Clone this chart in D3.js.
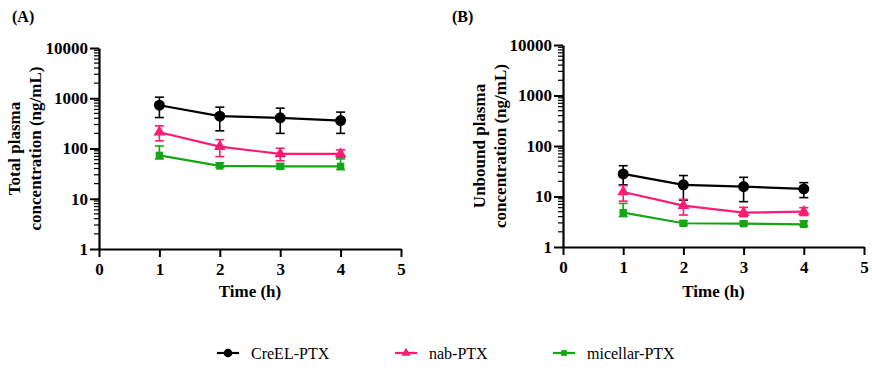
<!DOCTYPE html>
<html>
<head>
<meta charset="utf-8">
<script src="https://cdn.jsdelivr.net/npm/d3@7"></script>
<style>
  body { margin: 0; background: #fff; }
  svg { display: block; }
  svg text { font-family: "Liberation Serif", Times, "Times New Roman", "DejaVu Serif", serif !important; }
</style>
</head>
<body>
<div id="chart"></div>
<script>
// Data
const times = [1, 2, 3, 4];
const seriesNames = ["CreEL-PTX", "nab-PTX", "micellar-PTX"];
const seriesColors = ["#000000", "#ff1a72", "#16a516"];

// Panel A: total plasma concentration (ng/mL)
const totalCreEL = [727, 440, 407, 360];
const totalCreELHi = [1050, 665, 635, 530];
const totalCreELLo = [413, 225, 200, 200];
const totalNab = [211, 109, 78, 78];
const totalNabHi = [282, 150, 101, 94];
const totalNabLo = [142, 69, 57, 66];
const totalMic = [73, 45, 44, 44];
const totalMicHi = [112, 52, 50, 62];
const totalMicLo = [62, 42, 40, 38];

// Panel B: unbound plasma concentration (ng/mL)
const unbCreEL = [28, 17, 15.7, 14.1];
const unbCreELHi = [40.7, 26, 24, 18.8];
const unbCreELLo = [17, 8.5, 7.9, 9.5];
const unbNab = [12.3, 6.6, 4.8, 5.0];
const unbNabHi = [16.4, 8.8, 6.1, 6.0];
const unbNabLo = [8.1, 4.3, 4.0, 4.2];
const unbMic = [4.8, 2.95, 2.9, 2.8];
const unbMicHi = [7.3, 3.3, 3.2, 3.3];
const unbMicLo = [4.0, 2.7, 2.7, 2.6];

const xTicks = [0, 1, 2, 3, 4, 5];
const yTicks = [1, 10, 100, 1000, 10000];

const W = 872, H = 368;
const svg = d3.select("#chart").append("svg")
  .attr("width", W)
  .attr("height", H);

const panels = [
  {
    tag: "(A)", tagX: 12, left: 99, right: 401, top: 48, bottom: 249,
    yLabel: ["Total plasma", "concentration (ng/mL)"], labelX: 14,
    series: [
      { mean: totalCreEL, hi: totalCreELHi, lo: totalCreELLo },
      { mean: totalNab, hi: totalNabHi, lo: totalNabLo },
      { mean: totalMic, hi: totalMicHi, lo: totalMicLo }
    ]
  },
  {
    tag: "(B)", tagX: 452, left: 563, right: 864, top: 45, bottom: 247,
    yLabel: ["Unbound plasma", "concentration (ng/mL)"], labelX: 479,
    series: [
      { mean: unbCreEL, hi: unbCreELHi, lo: unbCreELLo },
      { mean: unbNab, hi: unbNabHi, lo: unbNabLo },
      { mean: unbMic, hi: unbMicHi, lo: unbMicLo }
    ]
  }
];

const symbols = [d3.symbolCircle, d3.symbolTriangle, d3.symbolSquare];
const symbolSizes = [95, 60, 55];
const serif = "'Liberation Serif', Times, serif";

panels.forEach(p => {
  const g = svg.append("g");

  const x = d3.scaleLinear().domain([0, 5]).range([p.left, p.right]);
  const y = d3.scaleLog().domain([1, 10000]).range([p.bottom, p.top]);

  // panel tag
  g.append("text")
    .attr("x", p.tagX)
    .attr("y", 22)
    .style("font-size", "16px")
    .style("font-weight", "bold")
    .text(p.tag);

  // minor ticks on log axis
  const minor = [];
  for (let e = 0; e < 4; e++) {
    for (let m = 2; m <= 9; m++) minor.push(m * Math.pow(10, e));
  }
  g.selectAll(".minor")
    .data(minor)
    .enter()
    .append("line")
    .attr("x1", p.left - 5)
    .attr("x2", p.left)
    .attr("y1", d => y(d))
    .attr("y2", d => y(d))
    .attr("stroke", "#000")
    .attr("stroke-width", 1.2);

  // y axis
  const yAxis = g.append("g")
    .attr("transform", `translate(${p.left},0)`)
    .call(d3.axisLeft(y).tickValues(yTicks).tickFormat(d3.format("d")).tickSize(9).tickPadding(2).tickSizeOuter(0));
  yAxis.attr("font-family", serif);
  yAxis.select(".domain").attr("stroke-width", 2.2);
  yAxis.selectAll(".tick line").attr("stroke-width", 2);
  yAxis.selectAll("text")
    .style("font-size", "17px")
    .style("font-weight", "bold")
    .attr("fill", "#000");

  // x axis
  const xAxis = g.append("g")
    .attr("transform", `translate(0,${p.bottom})`)
    .call(d3.axisBottom(x).tickValues(xTicks).tickFormat(d3.format("d")).tickSize(8).tickPadding(6).tickSizeOuter(0));
  xAxis.attr("font-family", serif);
  xAxis.select(".domain").attr("stroke-width", 2.2);
  xAxis.selectAll(".tick line").attr("stroke-width", 2);
  xAxis.selectAll("text")
    .style("font-size", "17px")
    .style("font-weight", "bold")
    .attr("fill", "#000");

  // x title
  g.append("text")
    .attr("x", (p.left + p.right) / 2)
    .attr("y", 297)
    .attr("text-anchor", "middle")
    .style("font-size", "17px")
    .style("font-weight", "bold")
    .text("Time (h)");

  // y title, two lines
  const midY = (p.top + p.bottom) / 2;
  p.yLabel.forEach((line, i) => {
    g.append("text")
      .attr("transform", `translate(${p.labelX + i * 21},${midY}) rotate(-90)`)
      .attr("text-anchor", "middle")
      .attr("dy", "0.35em")
      .style("font-size", "17px")
      .style("font-weight", "bold")
      .text(line);
  });

  // series
  p.series.forEach((s, si) => {
    const color = seriesColors[si];
    const pts = times.map((t, i) => ({ t: t, v: s.mean[i], hi: s.hi[i], lo: s.lo[i] }));
    const sg = g.append("g");

    // error bars
    sg.selectAll(".err")
      .data(pts)
      .enter()
      .append("line")
      .attr("x1", d => x(d.t))
      .attr("x2", d => x(d.t))
      .attr("y1", d => y(d.hi))
      .attr("y2", d => y(d.lo))
      .attr("stroke", color)
      .attr("stroke-width", 1.6);
    ["hi", "lo"].forEach(k => {
      sg.selectAll(".cap-" + k)
        .data(pts)
        .enter()
        .append("line")
        .attr("x1", d => x(d.t) - 4.5)
        .attr("x2", d => x(d.t) + 4.5)
        .attr("y1", d => y(d[k]))
        .attr("y2", d => y(d[k]))
        .attr("stroke", color)
        .attr("stroke-width", 1.6);
    });

    // line
    sg.append("path")
      .datum(pts)
      .attr("fill", "none")
      .attr("stroke", color)
      .attr("stroke-width", 2.2)
      .attr("d", d3.line().x(d => x(d.t)).y(d => y(d.v)));

    // markers
    sg.selectAll(".mk")
      .data(pts)
      .enter()
      .append("path")
      .attr("transform", d => `translate(${x(d.t)},${y(d.v)})`)
      .attr("d", d3.symbol().type(symbols[si]).size(symbolSizes[si]))
      .attr("fill", color);
  });
});

// legend
const legendX = [217, 395, 553];
const legendY = 353;
seriesNames.forEach((name, i) => {
  const lg = svg.append("g").attr("transform", `translate(${legendX[i]},${legendY})`);
  lg.append("line")
    .attr("x1", 0).attr("x2", 22)
    .attr("stroke", seriesColors[i])
    .attr("stroke-width", 2.2);
  lg.append("path")
    .attr("transform", "translate(11,0)")
    .attr("d", d3.symbol().type(symbols[i]).size(symbolSizes[i] * 0.6))
    .attr("fill", seriesColors[i]);
  lg.append("text")
    .attr("x", 34)
    .attr("dy", "0.35em")
    .style("font-size", "16px")
    .text(name);
});
</script>
</body>
</html>
